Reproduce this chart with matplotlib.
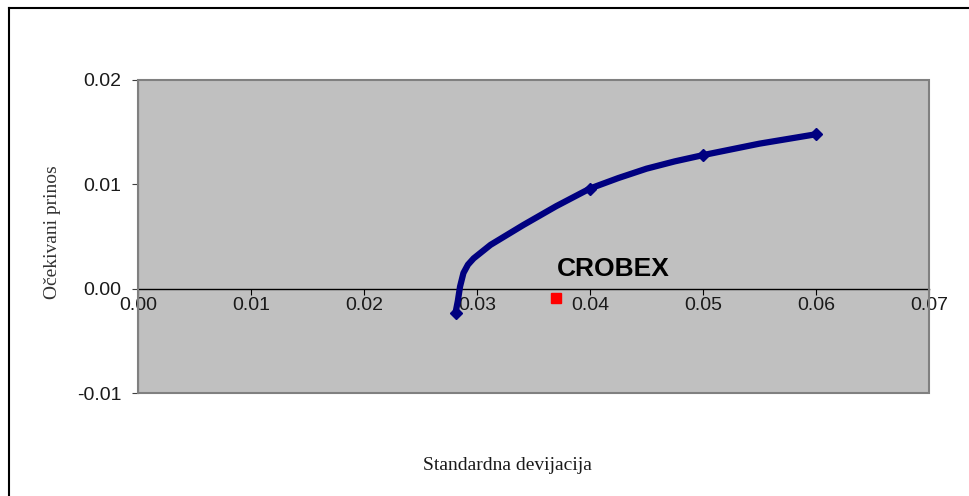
import matplotlib
matplotlib.use("Agg")
import matplotlib.pyplot as plt
from matplotlib.lines import Line2D
from matplotlib.patches import Rectangle
from matplotlib.ticker import FormatStrFormatter

# efficient frontier
std_dev = [0.0281, 0.0283, 0.0285, 0.0288, 0.0292, 0.0297, 0.0312, 0.0341, 0.0370, 0.0400,
           0.0425, 0.0450, 0.0475, 0.0500, 0.0550, 0.0600]
exp_ret = [-0.0023, -0.0012, 0.0002, 0.0015, 0.0023, 0.0029, 0.0042, 0.0061, 0.0079, 0.0096,
           0.0106, 0.0115, 0.0122, 0.0128, 0.0139, 0.0148]
marked = [0, 9, 13, 15]

# market index
crobex_std = [0.037]
crobex_ret = [-0.0009]
crobex_label = "CROBEX"

x_ticks = [0.00, 0.01, 0.02, 0.03, 0.04, 0.05, 0.06, 0.07]
y_ticks = [-0.01, 0.00, 0.01, 0.02]

plt.rcParams["axes.unicode_minus"] = False

fig = plt.figure(figsize=(9.7, 4.96), dpi=100)
ax = fig.add_axes([138 / 970, 1 - 393 / 496, (929 - 138) / 970, (393 - 80) / 496])
ax.set_facecolor("#C0C0C0")

ax.plot(std_dev, exp_ret, color="#000080", lw=4.5, marker="D", markersize=6,
        markevery=marked, solid_capstyle="round", solid_joinstyle="round", zorder=3)
ax.plot(crobex_std, crobex_ret, ls="none", marker="s", markersize=7,
        color="#FF0000", zorder=4)
ax.text(crobex_std[0] + 0.0001, crobex_ret[0] + 0.0021, crobex_label,
        fontsize=19, fontweight="bold", family="Liberation Sans", ha="left", va="baseline")

ax.set_xlim(0, 0.07)
ax.set_ylim(-0.01, 0.02)
ax.set_xticks(x_ticks)
ax.set_yticks(y_ticks)
ax.xaxis.set_major_formatter(FormatStrFormatter("%.2f"))
ax.yaxis.set_major_formatter(FormatStrFormatter("%.2f"))

# x axis crosses at zero, plot area gets its own grey frame
ax.spines["bottom"].set_position(("data", 0))
ax.spines["bottom"].set_color("black")
ax.spines["bottom"].set_linewidth(1.0)
ax.spines["top"].set_visible(False)
ax.spines["right"].set_visible(False)
ax.spines["left"].set_color("#606060")
ax.add_patch(Rectangle((0, 0), 1, 1, transform=ax.transAxes, fill=False,
                       edgecolor="#808080", lw=1.5, clip_on=False, zorder=5))

for lab in ax.get_xticklabels() + ax.get_yticklabels():
    lab.set_family("Liberation Sans")
    lab.set_fontsize(14)
    lab.set_color("#1a1a1a")
ax.tick_params(axis="x", direction="out", length=4, pad=2, color="black")
ax.tick_params(axis="y", direction="out", length=4, pad=8, color="#404040")

fig.text(53 / 970, 1 - 232 / 496, "Očekivani prinos", rotation=90, ha="center", va="center",
         fontsize=14, family="Liberation Serif", color="#333333")
fig.text(507 / 970, 1 - 465 / 496, "Standardna devijacija", ha="center", va="center",
         fontsize=14, family="Liberation Serif", color="#1a1a1a")

# chart frame (only top and left are visible in the picture)
fx = 9.5 / 970
fy = 1 - 8 / 496
fig.add_artist(Line2D([fx, fx], [0, fy], transform=fig.transFigure, color="black", lw=1.5))
fig.add_artist(Line2D([fx, 1], [fy, fy], transform=fig.transFigure, color="black", lw=1.5))

fig.savefig("out.png", dpi=100, facecolor="white")
